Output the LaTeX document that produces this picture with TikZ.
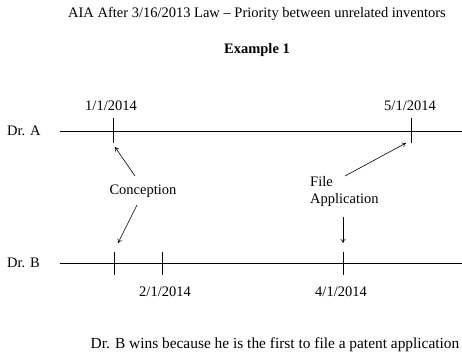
\documentclass[tikz,border=0pt]{standalone}
\usepackage{fontspec}
\setmainfont{Liberation Serif}
\usetikzlibrary{arrows.meta}
\begin{document}
\begin{tikzpicture}[x=1pt,y=-1pt,
  lbl/.style={inner sep=0pt,font=\fontsize{14.5}{17}\selectfont},
  tl/.style={line width=0.9pt},
  arr/.style={line width=0.6pt,-{To[length=4pt,width=5pt]}}]
\useasboundingbox (0,0) rectangle (462,355);
\node[lbl] (title) at (257,14) {AIA After 3/16/2013 Law -- Priority between unrelated inventors};
\node[lbl,font=\fontsize{14.5}{17}\selectfont\bfseries] (ex) at (257,50) {Example 1};
% Dr. A
\node[lbl,anchor=west] (dra) at (7,131) {Dr. A};
\coordinate (a0) at (60,131); \coordinate (a1) at (462,131);
\draw[tl] (a0) -- (a1);
\coordinate (ta1t) at (113,118); \coordinate (ta1b) at (113,143);
\coordinate (ta2t) at (411,118); \coordinate (ta2b) at (411,143);
\draw[tl] (ta1t) -- (ta1b);
\draw[tl] (ta2t) -- (ta2b);
\node[lbl] (d11) at (111,106) {1/1/2014};
\node[lbl] (d51) at (410,106) {5/1/2014};
% Dr. B
\node[lbl,anchor=west] (drb) at (7,263) {Dr. B};
\coordinate (b0) at (60,263); \coordinate (b1) at (462,263);
\draw[tl] (b0) -- (b1);
\coordinate (tb1t) at (114,252); \coordinate (tb1b) at (114,275);
\coordinate (tb2t) at (162,252); \coordinate (tb2b) at (162,275);
\coordinate (tb3t) at (343,252); \coordinate (tb3b) at (343,275);
\draw[tl] (tb1t) -- (tb1b);
\draw[tl] (tb2t) -- (tb2b);
\draw[tl] (tb3t) -- (tb3b);
\node[lbl] (d21) at (165,292) {2/1/2014};
\node[lbl] (d41) at (341,292) {4/1/2014};
% labels and arrows
\node[lbl] (conc) at (143,191) {Conception};
\node[lbl,align=left,anchor=west] (file) at (310,191.5) {File\\Application};
\coordinate (c1s) at (135,176); \coordinate (c1e) at (115,147);
\coordinate (c2s) at (137,205); \coordinate (c2e) at (118,243);
\coordinate (f1s) at (345,176); \coordinate (f1e) at (406,143);
\coordinate (f2s) at (343,217); \coordinate (f2e) at (343,243);
\draw[arr] (c1s) -- (c1e);
\draw[arr] (c2s) -- (c2e);
\draw[arr] (f1s) -- (f1e);
\draw[arr] (f2s) -- (f2e);
\node[lbl,font=\fontsize{15.4}{18}\selectfont] (concl) at (275,345) {Dr. B wins because he is the first to file a patent application};
\end{tikzpicture}
\end{document}
